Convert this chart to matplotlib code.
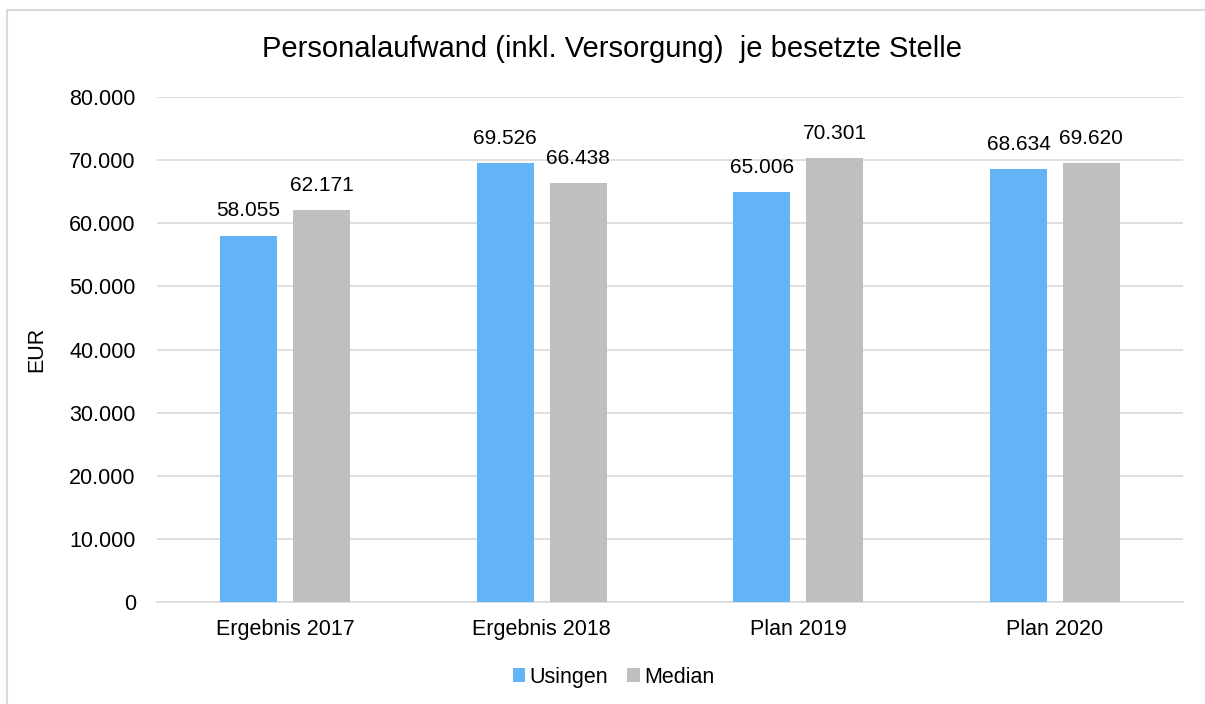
import matplotlib.pyplot as plt
import matplotlib.patches as mpatches
import numpy as np

plt.rcParams['font.family'] = ['Liberation Sans', 'DejaVu Sans']

categories = ['Ergebnis 2017', 'Ergebnis 2018', 'Plan 2019', 'Plan 2020']
usingen = [58055, 69526, 65006, 68634]
median = [62171, 66438, 70301, 69620]
series_names = ['Usingen', 'Median']
colors = ['#63B4F6', '#BFBFBF']


def fmt(v):
    return f'{v:,.0f}'.replace(',', '.')


fig = plt.figure(figsize=(12.05, 7.04), dpi=100)
ax = fig.add_axes([0.130, 0.145, 0.852, 0.717])

# outer frame (left and top visible only)
fig.patches.append(mpatches.Rectangle((7 / 1205, -0.1), 1.2, 1 - 10 / 704 + 0.1,
                                      transform=fig.transFigure, fill=False,
                                      edgecolor='#D9D9D9', linewidth=1.5))

x = np.arange(len(categories))
w = 0.222
off = 0.142
b1 = ax.bar(x - off, usingen, w, color=colors[0], label=series_names[0], zorder=3)
b2 = ax.bar(x + off, median, w, color=colors[1], label=series_names[1], zorder=3)

for bars, vals in ((b1, usingen), (b2, median)):
    for r, v in zip(bars, vals):
        ax.text(r.get_x() + r.get_width() / 2, v + 2400, fmt(v),
                ha='center', va='bottom', fontsize=15, color='#000000')

fs = 15.5
ax.set_xlim(-0.5, 3.5)
ax.set_ylim(0, 80000)
ax.set_yticks(range(0, 80001, 10000))
ax.set_yticklabels([fmt(v) for v in range(0, 80001, 10000)], fontsize=fs)
ax.set_xticks(x)
ax.set_xticklabels(categories, fontsize=fs)
ax.tick_params(axis='y', length=0, pad=15)
ax.tick_params(axis='x', length=0, pad=12)
ax.grid(axis='y', color='#D9D9D9', linewidth=1.2, zorder=0)
for s in ['top', 'right', 'left']:
    ax.spines[s].set_visible(False)
ax.spines['bottom'].set_color('#D9D9D9')
ax.spines['bottom'].set_linewidth(1.2)

ax.set_ylabel('EUR', fontsize=fs, labelpad=16)
fig.text(0.508, 0.93, 'Personalaufwand (inkl. Versorgung)  je besetzte Stelle',
         ha='center', va='center', fontsize=21)

fig.legend(loc='center', bbox_to_anchor=(0.509, 0.038), ncol=2, frameon=False,
           fontsize=fs, handlelength=0.6, handleheight=0.6, handletextpad=0.2,
           columnspacing=0.85)

fig.savefig('out.png', dpi=100)
